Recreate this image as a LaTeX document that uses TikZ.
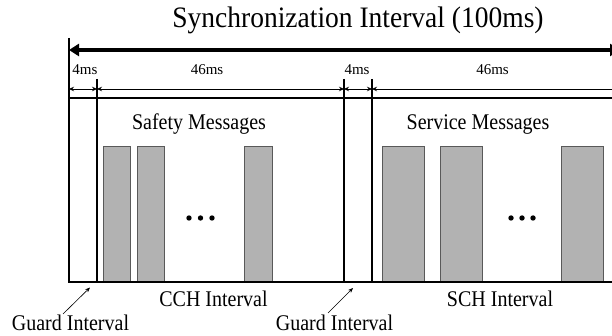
\documentclass[tikz,border=0pt]{standalone}
\usepackage{fontspec}
\setmainfont{Liberation Serif}
\usetikzlibrary{arrows.meta}
% slightly tall lettering used for the labels
\newcommand\talltext[2]{\scalebox{1}[#1]{#2}}
\begin{document}
\begin{tikzpicture}[x=1pt,y=1pt,
  framebar/.style={line width=1.8pt},
  dimline/.style={line width=0.9pt,
    {Stealth[length=5pt,width=4.5pt]}-{Stealth[length=5pt,width=4.5pt]}},
  msgbox/.style={draw=black!65,line width=0.9pt,fill=black!30},
  pointer/.style={line width=0.6pt,-{Stealth[length=5pt,width=4pt]}},
  lbl/.style={inner sep=0pt,anchor=base},
  bigtxt/.style={lbl,font=\fontsize{20}{22}\selectfont},
  smalltxt/.style={lbl,font=\fontsize{15}{17}\selectfont},
]
\useasboundingbox (0,0) rectangle (612,336);
\clip (0,0) rectangle (612,336);

% title and the overall 100 ms span
\node[lbl,font=\fontsize{27.5}{30}\selectfont] (title) at (358,308.5)
  {\talltext{1.08}{Synchronization Interval (100ms)}};
\coordinate (syncL) at (69,286);
\coordinate (syncR) at (620,286);
\draw[line width=3.5pt,{Triangle[length=10pt,width=12pt]}-{Triangle[length=10pt,width=12pt]}]
  (syncL) -- (syncR);

% message slots (CCH: safety, SCH: service)
\node[msgbox,minimum width=27pt,minimum height=135pt,anchor=south west,inner sep=0pt] (s1) at (103,54) {};
\node[msgbox,minimum width=27pt,minimum height=135pt,anchor=south west,inner sep=0pt] (s2) at (137,54) {};
\node[msgbox,minimum width=28pt,minimum height=135pt,anchor=south west,inner sep=0pt] (s3) at (244,54) {};
\node[msgbox,minimum width=42pt,minimum height=135pt,anchor=south west,inner sep=0pt] (v1) at (382,54) {};
\node[msgbox,minimum width=42pt,minimum height=135pt,anchor=south west,inner sep=0pt] (v2) at (440,54) {};
\node[msgbox,minimum width=42pt,minimum height=135pt,anchor=south west,inner sep=0pt] (v3) at (561,54) {};

% ellipsis dots
\foreach \cx in {189,200.5,212} \fill (\cx,118) circle (2.7pt);
\foreach \cx in {511,522,533} \fill (\cx,118) circle (2.7pt);

% interval boundaries
\coordinate (b0t) at (69,298);   \coordinate (b0b) at (69,54);
\coordinate (b1t) at (97,257);   \coordinate (b1b) at (97,54);
\coordinate (b2t) at (344,257);  \coordinate (b2b) at (344,54);
\coordinate (b3t) at (372,257);  \coordinate (b3b) at (372,54);
\coordinate (topR) at (630,238); \coordinate (botR) at (630,54);
\draw[framebar] (b0t) -- (b0b);
\draw[framebar] (b1t) -- (b1b);
\draw[framebar] (b2t) -- (b2b);
\draw[framebar] (b3t) -- (b3b);
\draw[framebar] (69,238) -- (topR);
\draw[framebar] (68,54) -- (botR);

% dimension arrows
\coordinate (d0) at (69,247);
\coordinate (d1) at (97,247);
\coordinate (d2) at (344,247);
\coordinate (d3) at (372,247);
\coordinate (d4) at (640,247);
\draw[dimline] (d0) -- (d1);
\draw[dimline] (d1) -- (d2);
\draw[dimline] (d2) -- (d3);
\draw[dimline] (d3) -- (d4);
\node[smalltxt] (g1) at (85,261.7) {4ms};
\node[smalltxt] (c1) at (207,261.7) {46ms};
\node[smalltxt] (g2) at (357,261.7) {4ms};
\node[smalltxt] (c2) at (492.5,261.7) {46ms};

% channel contents
\node[bigtxt] (safety) at (199,206) {\talltext{1.12}{Safety Messages}};
\node[bigtxt] (service) at (478,206) {\talltext{1.12}{Service Messages}};
\node[bigtxt] (cch) at (213.5,29.3) {\talltext{1.12}{CCH Interval}};
\node[bigtxt] (sch) at (500,29.3) {\talltext{1.12}{SCH Interval}};

% guard interval callouts
\node[bigtxt] (guard1) at (70.5,5) {\talltext{1.12}{Guard Interval}};
\node[bigtxt] (guard2) at (334.5,5) {\talltext{1.12}{Guard Interval}};
\coordinate (gp1) at (63,22);  \coordinate (gt1) at (90,48.5);
\coordinate (gp2) at (328,23); \coordinate (gt2) at (353,48);
\draw[pointer] (gp1) -- (gt1);
\draw[pointer] (gp2) -- (gt2);
\end{tikzpicture}
\end{document}
